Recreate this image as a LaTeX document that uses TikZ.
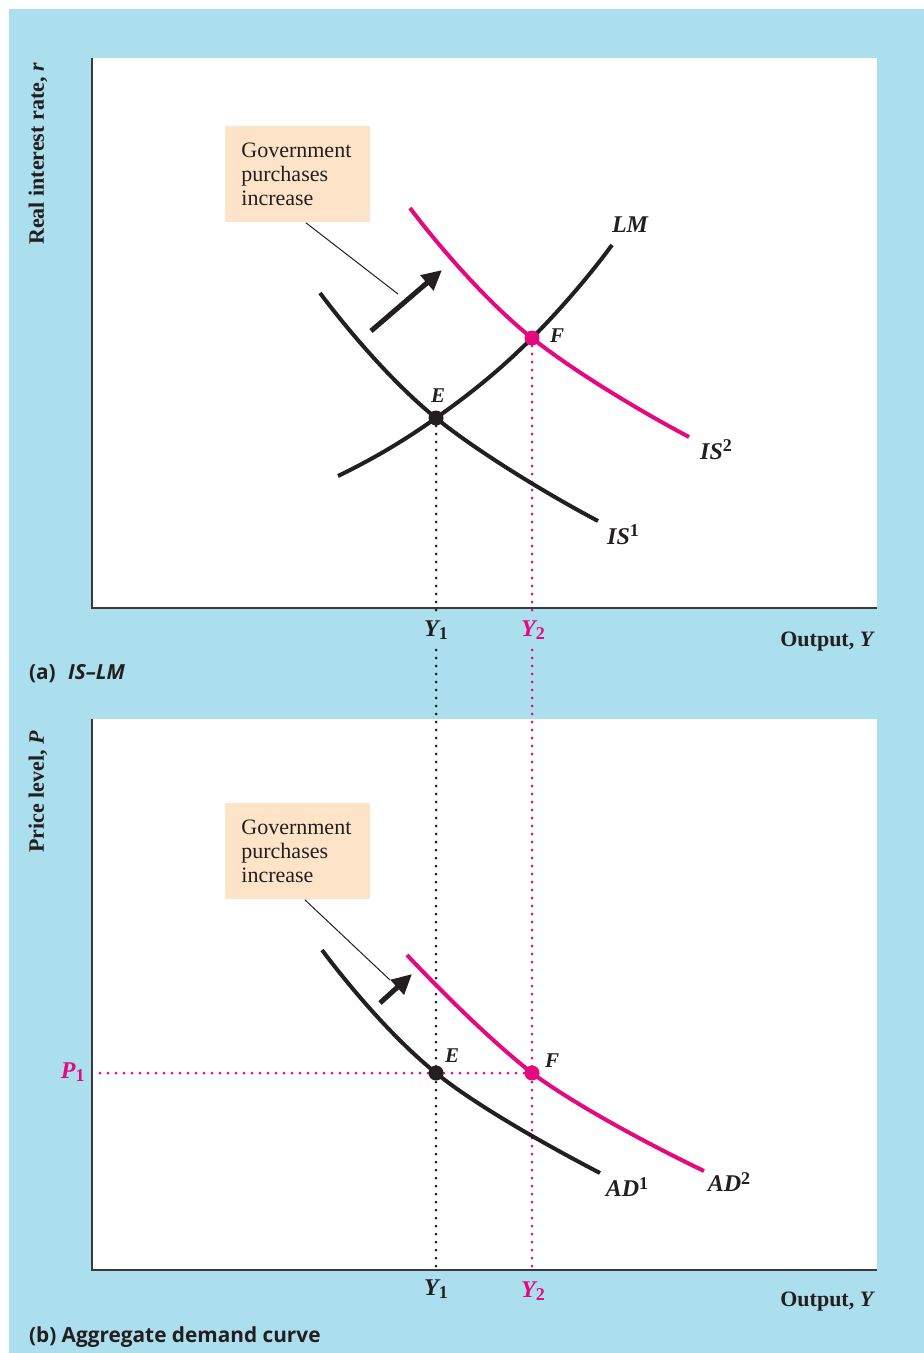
\documentclass[tikz,border=0pt]{standalone}
\usepackage{fontspec}
\setmainfont{Liberation Serif}
\newfontfamily\sansfam{Open Sans}
\usetikzlibrary{arrows.meta}
\definecolor{bgblue}{HTML}{ABDFEE}
\definecolor{mag}{HTML}{E5097F}
\definecolor{peach}{HTML}{FDE3C8}
\definecolor{ink}{HTML}{231F20}
\definecolor{axisgray}{HTML}{3A3A3A}
\newcommand{\lowidx}[1]{\raisebox{-0.3ex}{\fontsize{9}{9}\selectfont\upshape #1}}
\newcommand{\highidx}[1]{\raisebox{0.7ex}{\fontsize{9}{9}\selectfont\upshape #1}}
\begin{document}
\begin{tikzpicture}[x=0.5pt,y=-0.5pt,
  blackcurve/.style={line width=2pt, draw=ink},
  magcurve/.style={line width=2pt, draw=mag},
  axisline/.style={line width=1.1pt, draw=axisgray},
  dotline/.style={line width=1.5pt, dash pattern=on 0pt off 4pt, line cap=round},
  eqdot/.style={circle, inner sep=0pt, minimum size=7.5pt},
  gbox/.style={fill=peach, anchor=north west, minimum width=72.5pt, minimum height=48pt,
    text width=56.5pt, inner xsep=8pt, align=left, text=ink,
    font=\fontsize{11}{12}\selectfont},
  shiftarrow/.style={line width=2.5pt, draw=ink, -{Triangle[length=10pt,width=9.5pt]}},
  pointer/.style={line width=0.5pt, draw=ink},
  curvelab/.style={font=\fontsize{12}{12}\selectfont\bfseries\itshape, text=ink},
  ptlab/.style={font=\fontsize{10.5}{12}\selectfont\bfseries\itshape, text=ink},
  axlab/.style={font=\fontsize{11}{12}\selectfont\bfseries, text=ink},
  ylab/.style={font=\fontsize{12}{12}\selectfont\bfseries\itshape, inner xsep=1pt, inner ysep=3pt},
  panlab/.style={font=\sansfam\fontsize{10.4}{12}\selectfont\bfseries, text=ink, anchor=west}
]
\useasboundingbox (0,0) rectangle (924,1353);
\fill[white] (0,0) rectangle (924,1353);
\fill[bgblue] (9,9) rectangle (924,1353);
\fill[white] (92,58) rectangle (877,608);
\fill[white] (92,719) rectangle (877,1270);

% equilibrium points
\node[eqdot] (E1) at (436,418) {};
\node[eqdot] (F1) at (532,338) {};
\node[eqdot] (E2) at (436,1073) {};
\node[eqdot] (F2) at (532,1073) {};
\coordinate (Y1end) at (436,1270);
\coordinate (Y2end) at (532,1270);
\coordinate (P1start) at (100,1073);

% dotted guide lines
\draw[dotline, ink] (E1.center) -- (Y1end);
\draw[dotline, mag] (F1.center) -- (Y2end);
\draw[dotline, mag] (P1start) -- (F2.center);

% top panel curves
\draw[blackcurve] (320,293) .. controls (350,333) and (395,385) .. (E1.center)
  .. controls (475,450) and (545,493) .. (598,521);
\draw[magcurve] (410,208) .. controls (440,248) and (490,305) .. (F1.center)
  .. controls (572,370) and (638,410) .. (689,437);
\draw[blackcurve] (338,476) .. controls (375,458) and (405,440) .. (E1.center)
  .. controls (470,394) and (500,370) .. (F1.center)
  .. controls (560,310) and (590,275) .. (612,245);

% bottom panel curves
\draw[blackcurve] (322,950) .. controls (352,990) and (395,1040) .. (E2.center)
  .. controls (475,1105) and (548,1146) .. (600,1173);
\draw[magcurve] (407,955) .. controls (440,990) and (490,1040) .. (F2.center)
  .. controls (575,1105) and (650,1145) .. (704,1171);

% dots on top
\node[eqdot, fill=ink] at (E1) {};
\node[eqdot, fill=mag] at (F1) {};
\node[eqdot, fill=ink] at (E2) {};
\node[eqdot, fill=mag] at (F2) {};

% axes
\draw[axisline] (92,58) -- (92,608) -- (877,608);
\draw[axisline] (92,719) -- (92,1270) -- (877,1270);

% boxes and arrows
\node[gbox] (box1) at (225,126) {Government\\purchases\\increase};
\node[gbox] (box2) at (225,803) {Government\\purchases\\increase};
\coordinate (ptrA) at (398,294);
\coordinate (ptrB) at (390,980);
\draw[pointer] ([xshift=4pt]box1.south) -- (ptrA);
\draw[pointer] ([xshift=3.5pt]box2.south) -- (ptrB);
\coordinate (arrAs) at (371,331);
\coordinate (arrAe) at (442,270);
\coordinate (arrBs) at (380,1003);
\coordinate (arrBe) at (412,974);
\draw[shiftarrow] (arrAs) -- (arrAe);
\draw[shiftarrow] (arrBs) -- (arrBe);

% curve labels
\node[curvelab] (LMlab) at (630,225) {LM};
\node[curvelab] (IS2lab) at (716,450) {IS\highidx{2}};
\node[curvelab] (IS1lab) at (623,535) {IS\highidx{1}};
\node[curvelab] (AD1lab) at (627,1187) {AD\highidx{1}};
\node[curvelab] (AD2lab) at (729,1182) {AD\highidx{2}};
\node[ptlab] (Elab1) at (438,396) {E};
\node[ptlab] (Flab1) at (557,336) {F};
\node[ptlab] (Elab2) at (452,1056) {E};
\node[ptlab] (Flab2) at (552,1061) {F};

% axis value labels
\node[ylab, text=ink, fill=bgblue] (Y1a) at (436,630) {Y\lowidx{1}};
\node[ylab, text=mag, fill=bgblue] (Y2a) at (533,630) {Y\lowidx{2}};
\node[ylab, text=ink] (Y1b) at (436,1289) {Y\lowidx{1}};
\node[ylab, text=mag] (Y2b) at (533,1291) {Y\lowidx{2}};
\node[ylab, text=mag, anchor=east] (P1lab) at (87,1072) {P\lowidx{1}};

% axis titles
\node[axlab, anchor=east] (outA) at (882,642) {Output, \textit{Y}};
\node[axlab, anchor=east] (outB) at (882,1302) {Output, \textit{Y}};
\node[axlab, rotate=90, anchor=east] (rlab) at (38,56) {Real interest rate, \textit{r}};
\node[axlab, rotate=90, anchor=east] (plab) at (38,724) {Price level, \textit{P}};

% panel labels
\node[panlab] (pa) at (22,674) {(a)\hspace{0.6em}\itshape IS\textendash LM};
\node[panlab] (pb) at (22,1337) {(b) Aggregate demand curve};
\end{tikzpicture}
\end{document}
